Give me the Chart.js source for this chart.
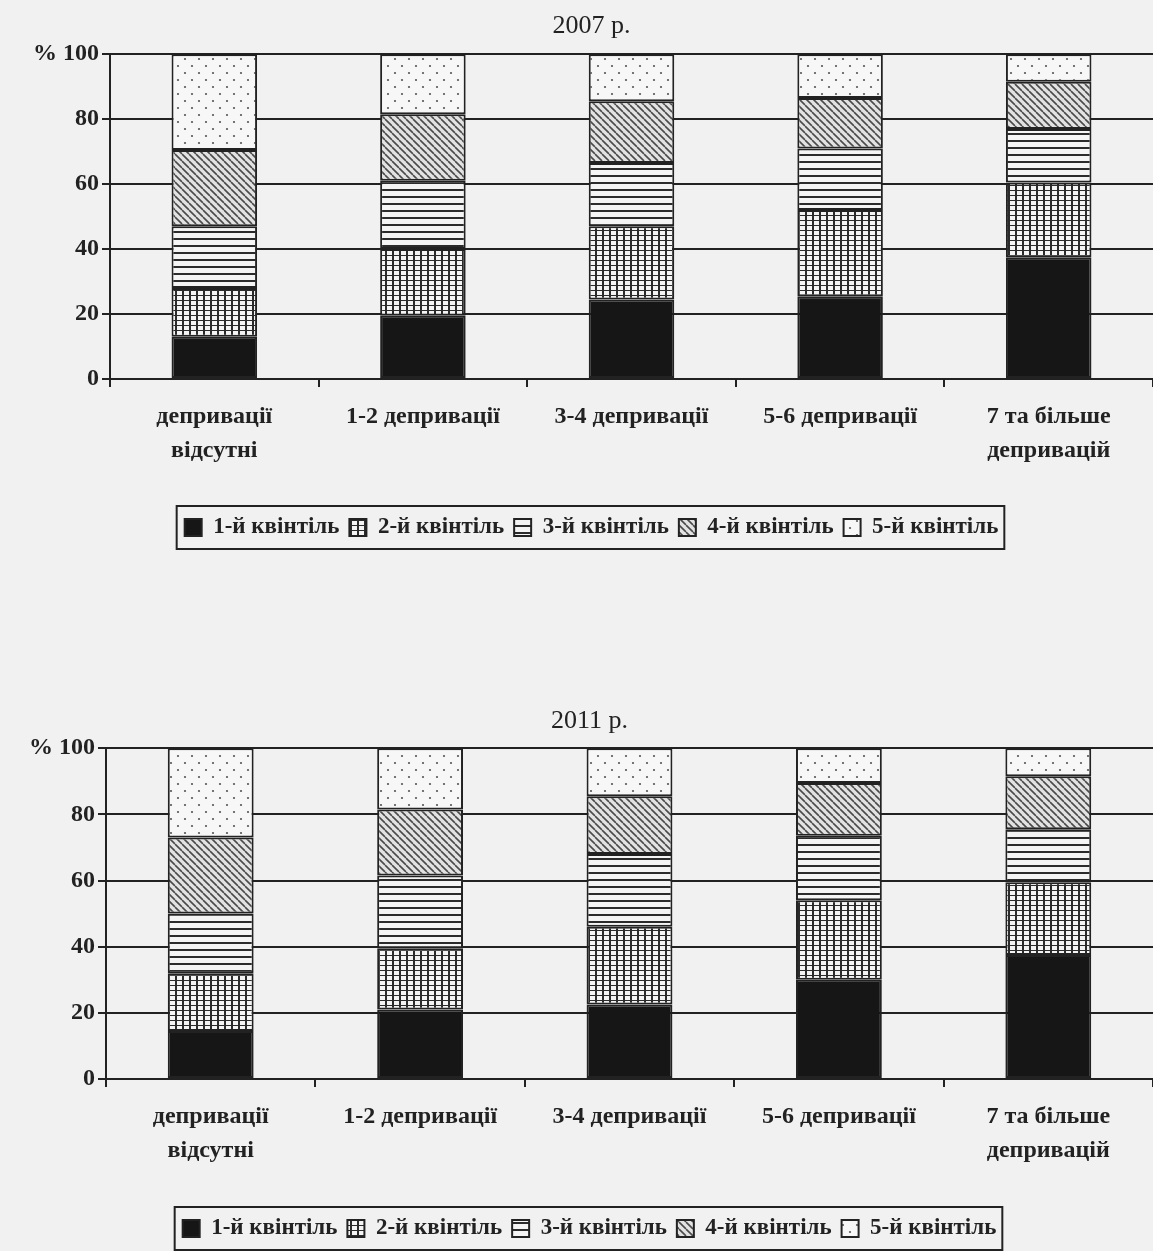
<!DOCTYPE html>
<html lang="uk">
<head>
<meta charset="utf-8">
<title>Квінтилі за кількістю депривацій</title>
<script src="https://cdn.jsdelivr.net/npm/chart.js@4/dist/chart.umd.min.js"></script>
<style>
  html, body { margin: 0; padding: 0; }
  body { width: 1153px; height: 1251px; background: #f1f1f1; position: relative; overflow: hidden; }
  .chart-box { position: absolute; left: 0; width: 1153px; }
  #box2007 { top: 0; height: 560px; }
  #box2011 { top: 690px; height: 561px; }
</style>
</head>
<body>
<div class="chart-box" id="box2007"><canvas id="chart2007"></canvas></div>
<div class="chart-box" id="box2011"><canvas id="chart2011"></canvas></div>

<script>
// categories & labels
const categories = [['депривації', 'відсутні'], '1-2 депривації', '3-4 депривації', '5-6 депривації', ['7 та більше', 'депривацій']];
const quintileLabels = ['1-й квінтіль', '2-й квінтіль', '3-й квінтіль', '4-й квінтіль', '5-й квінтіль'];
const yTickValues = [0, 20, 40, 60, 80, 100];

// 2007 р. (%)
const q1_2007 = [13, 19.5, 24.5, 25.5, 37.5];
const q2_2007 = [15, 20.5, 22.5, 26.5, 23];
const q3_2007 = [19, 21, 19.5, 19, 16.5];
const q4_2007 = [23.5, 20.5, 19, 15.5, 14.5];
const q5_2007 = [29.5, 18.5, 14.5, 13.5, 8.5];

// 2011 р. (%)
const q1_2011 = [14.5, 21, 22.5, 30, 37.5];
const q2_2011 = [17.5, 18.5, 23.5, 24, 22];
const q3_2011 = [18, 22, 22, 19.5, 16];
const q4_2011 = [23, 20, 17.5, 16, 16];
const q5_2011 = [27, 18.5, 14.5, 10.5, 8.5];

(function () {
  'use strict';

  const INK = '#222';
  const SERIF = "'Liberation Serif', 'DejaVu Serif', serif";

  // --- hatch patterns for the quintiles ---
  function tile(w, h, draw) {
    const c = document.createElement('canvas');
    c.width = w; c.height = h;
    const g = c.getContext('2d');
    draw(g, w, h);
    return g.createPattern(c, 'repeat');
  }

  const fills = [
    '#161616',
    // grid (vertical + horizontal)
    tile(7, 5, (g, w, h) => {
      g.fillStyle = '#f4f4f4'; g.fillRect(0, 0, w, h);
      g.fillStyle = '#2b2b2b';
      g.fillRect(0, 0, 2, h);
      g.fillRect(0, 0, w, 1);
    }),
    // horizontal lines
    tile(4, 7, (g, w, h) => {
      g.fillStyle = '#f4f4f4'; g.fillRect(0, 0, w, h);
      g.fillStyle = '#2b2b2b';
      g.fillRect(0, 0, w, 2);
    }),
    // diagonal "\" lines
    tile(7, 7, (g, w, h) => {
      g.fillStyle = '#e2e2e2'; g.fillRect(0, 0, w, h);
      g.strokeStyle = '#4a4a4a'; g.lineWidth = 1.6;
      g.beginPath();
      [-w, 0, w].forEach(o => { g.moveTo(o, 0); g.lineTo(o + w, h); });
      g.stroke();
    }),
    // dots
    tile(14, 14, (g, w, h) => {
      g.fillStyle = '#f7f7f7'; g.fillRect(0, 0, w, h);
      g.fillStyle = '#555';
      g.beginPath(); g.arc(3, 3, 1.1, 0, Math.PI * 2); g.fill();
      g.beginPath(); g.arc(10, 10, 1.1, 0, Math.PI * 2); g.fill();
    })
  ];

  // frame round the legend
  const legendFrame = {
    id: 'legendFrame',
    afterDraw(chart) {
      const hb = chart.legend.legendHitBoxes;
      if (!hb || !hb.length) return;
      const c = chart.ctx;
      const left = Math.min(...hb.map(b => b.left)) - 8;
      const right = Math.max(...hb.map(b => b.left + b.width)) + 6;
      const top = Math.min(...hb.map(b => b.top)) - 10;
      const bottom = Math.max(...hb.map(b => b.top + b.height)) + 10;
      c.save();
      c.strokeStyle = INK;
      c.lineWidth = 2;
      c.strokeRect(left, top, right - left, bottom - top);
      c.restore();
    }
  };

  function makeChart(id, title, series, opts) {
    const el = document.getElementById(id);
    if (!el) return;
    new Chart(el, {
      type: 'bar',
      data: {
        labels: categories,
        datasets: series.map((vals, i) => ({
          label: quintileLabels[i],
          data: vals,
          backgroundColor: fills[i],
          borderColor: INK,
          borderWidth: 2,
          borderSkipped: false,
          categoryPercentage: 1,
          barPercentage: 0.41
        }))
      },
      options: {
        responsive: true,
        maintainAspectRatio: false,
        animation: false,
        layout: { padding: opts.padding },
        plugins: {
          title: {
            display: true,
            text: title,
            color: INK,
            font: { family: SERIF, size: 26, weight: 'normal' },
            padding: opts.titlePadding
          },
          legend: {
            position: 'bottom',
            labels: {
              color: INK,
              font: { family: SERIF, size: 23, weight: 'bold' },
              boxWidth: 17,
              boxHeight: 17,
              padding: 10
            }
          },
          tooltip: { enabled: false }
        },
        scales: {
          x: {
            stacked: true,
            grid: { display: true, drawOnChartArea: false, drawTicks: true, tickLength: 8, color: INK, lineWidth: 2, offset: true },
            border: { display: true, color: INK, width: 2 },
            ticks: { color: INK, font: { family: SERIF, size: 24, weight: 'bold', lineHeight: 1.45 }, padding: 12, maxRotation: 0 },
            afterFit: s => { s.height = opts.xHeight; }
          },
          y: {
            stacked: true,
            min: 0,
            max: 100,
            afterBuildTicks: s => { s.ticks = yTickValues.map(v => ({ value: v })); },
            grid: { color: INK, lineWidth: 2, tickLength: 8 },
            border: { display: true, color: INK, width: 2 },
            ticks: {
              color: INK,
              padding: 3,
              font: { family: SERIF, size: 24, weight: 'bold' },
              callback: v => v === 100 ? '% 100' : v
            }
          }
        }
      },
      plugins: [legendFrame]
    });
  }

  makeChart('chart2007', '2007 р.', [q1_2007, q2_2007, q3_2007, q4_2007, q5_2007], {
    padding: { left: 30, right: 0, top: 0, bottom: 11 },
    titlePadding: { top: 11, bottom: 12 },
    xHeight: 127
  });

  makeChart('chart2011', '2011 р.', [q1_2011, q2_2011, q3_2011, q4_2011, q5_2011], {
    padding: { left: 26, right: 0, top: 0, bottom: 1 },
    titlePadding: { top: 16, bottom: 11 },
    xHeight: 128
  });

})();
</script>
</body>
</html>
